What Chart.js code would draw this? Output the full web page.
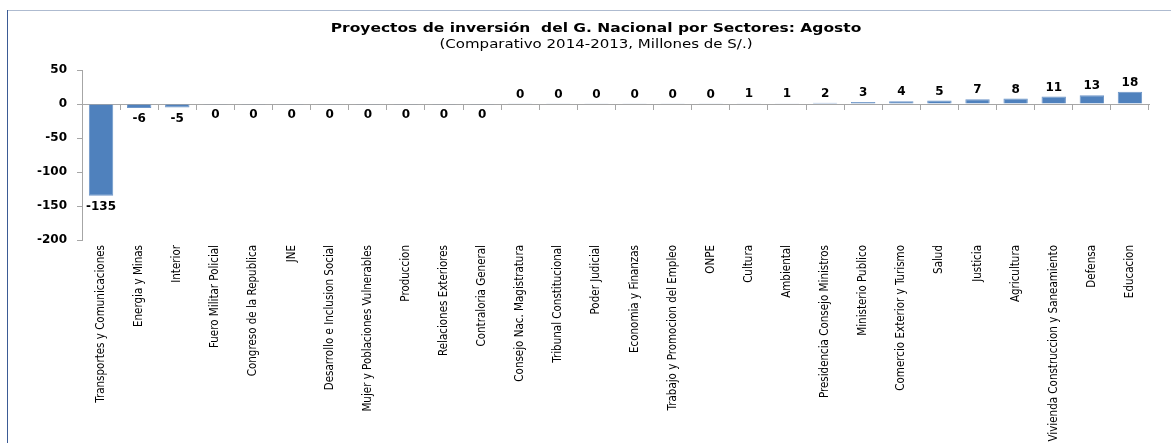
<!DOCTYPE html>
<html>
<head>
<meta charset="utf-8">
<script src="https://cdn.jsdelivr.net/npm/chart.js@4"></script>
<style>
  html, body { margin: 0; padding: 0; background: #ffffff; }
  #wrap { width: 1171px; height: 443px; }
</style>
</head>
<body>
<div id="wrap"><canvas id="barChart" width="1171" height="443"></canvas></div>
<script>
// Sectores y variacion (Millones de S/.)
const sectores = [
    'Transportes y Comunicaciones', 'Energia y Minas', 'Interior', 'Fuero Militar Policial',
    'Congreso de la Republica', 'JNE', 'Desarrollo e Inclusion Social',
    'Mujer y Poblaciones Vulnerables', 'Produccion', 'Relaciones Exteriores',
    'Contraloria General', 'Consejo Nac. Magistratura', 'Tribunal Constitucional',
    'Poder Judicial', 'Economia y Finanzas', 'Trabajo y Promocion del Empleo', 'ONPE',
    'Cultura', 'Ambiental', 'Presidencia Consejo Ministros', 'Ministerio Publico',
    'Comercio Exterior y Turismo', 'Salud', 'Justicia', 'Agricultura',
    'Vivienda Construccion y Saneamiento', 'Defensa', 'Educacion'
];
const variacion = [
    -135, -6, -5, -0.2, -0.2, -0.2, -0.2, -0.2, -0.2, -0.2, -0.2,
    0.2, 0.2, 0.2, 0.2, 0.2, 0.2,
    1, 1, 2, 3, 4, 5, 7, 8, 11, 13, 18
];
const yTicks = [50, 0, -50, -100, -150, -200];

const titulo = 'Proyectos de inversión  del G. Nacional por Sectores: Agosto';
const subtitulo = '(Comparativo 2014-2013, Millones de S/.)';

const azul = '#4f81bd';
const gris = '#a6a6a6';
const fuente = '"DejaVu Sans", Verdana, sans-serif';

// Marco del grafico (linea superior y lateral izquierda) y titulos
const marco = {
    id: 'marco',
    beforeDraw(chart) {
        const ctx = chart.ctx;
        ctx.save();
        ctx.lineWidth = 1;
        ctx.strokeStyle = '#aebbd0';
        ctx.beginPath();
        ctx.moveTo(7, 10.5);
        ctx.lineTo(chart.width, 10.5);
        ctx.stroke();
        ctx.strokeStyle = '#3b5b95';
        ctx.beginPath();
        ctx.moveTo(7.5, 10);
        ctx.lineTo(7.5, chart.height);
        ctx.stroke();

        // titulo ensanchado horizontalmente
        ctx.fillStyle = '#000000';
        ctx.textAlign = 'center';
        ctx.textBaseline = 'middle';
        ctx.save();
        ctx.translate(596, 29);
        ctx.scale(1.19, 1);
        ctx.font = 'bold 13px ' + fuente;
        ctx.fillText(titulo, 0, 0);
        ctx.restore();
        ctx.save();
        ctx.translate(596, 45);
        ctx.scale(1.25, 1);
        ctx.font = '12px ' + fuente;
        ctx.fillText(subtitulo, 0, 0);
        ctx.restore();
        ctx.restore();
    }
};

// Etiquetas con el valor de cada barra
const etiquetas = {
    id: 'etiquetas',
    afterDatasetsDraw(chart) {
        const ctx = chart.ctx;
        const meta = chart.getDatasetMeta(0);
        ctx.save();
        ctx.font = 'bold 12px ' + fuente;
        ctx.fillStyle = '#000000';
        ctx.textAlign = 'center';
        meta.data.forEach((bar, i) => {
            const v = variacion[i];
            const txt = String(Math.abs(Math.round(v)) === 0 ? 0 : Math.round(v));
            if (v >= 0) {
                ctx.textBaseline = 'bottom';
                ctx.fillText(txt, bar.x, bar.y - 3);
            } else {
                ctx.textBaseline = 'top';
                ctx.fillText(txt, bar.x, bar.y + 5);
            }
        });
        ctx.restore();
    }
};

const ctx = document.getElementById('barChart').getContext('2d');
const barChart = new Chart(ctx, {
    type: 'bar',
    data: {
        labels: sectores,
        datasets: [{
            data: variacion,
            backgroundColor: azul,
            borderColor: '#6e96c8',
            borderWidth: 1,
            categoryPercentage: 1,
            barPercentage: 0.64
        }]
    },
    options: {
        responsive: false,
        animation: false,
        layout: { padding: { left: 0, right: 22, top: 70, bottom: 0 } },
        plugins: {
            legend: { display: false },
            tooltip: { enabled: false }
        },
        scales: {
            x: {
                offset: true,
                border: { display: false },
                grid: { display: false, drawTicks: false },
                ticks: {
                    autoSkip: false,
                    minRotation: 90,
                    maxRotation: 90,
                    padding: 5,
                    color: '#000000',
                    font: { family: '"Liberation Sans Narrow", "DejaVu Sans Condensed", sans-serif', size: 11.5 }
                },
                afterFit(scale) { scale.height = 203; }
            },
            // eje horizontal en cero con marcas entre categorias
            xCero: {
                type: 'category',
                labels: sectores,
                position: { y: 0 },
                offset: true,
                border: { display: true, color: gris, width: 1 },
                grid: { offset: true, drawOnChartArea: false, tickLength: 5, color: gris },
                ticks: { display: false }
            },
            y: {
                min: -200,
                max: 50,
                afterBuildTicks(scale) { scale.ticks = yTicks.map(v => ({ value: v })); },
                border: { display: true, color: gris, width: 1 },
                grid: { drawOnChartArea: false, tickLength: 5, color: gris },
                ticks: {
                    padding: 10,
                    color: '#000000',
                    font: { family: fuente, size: 12, weight: 'bold' }
                },
                afterFit(scale) { scale.width = 82; }
            }
        }
    },
    plugins: [marco, etiquetas]
});
</script>
</body>
</html>
